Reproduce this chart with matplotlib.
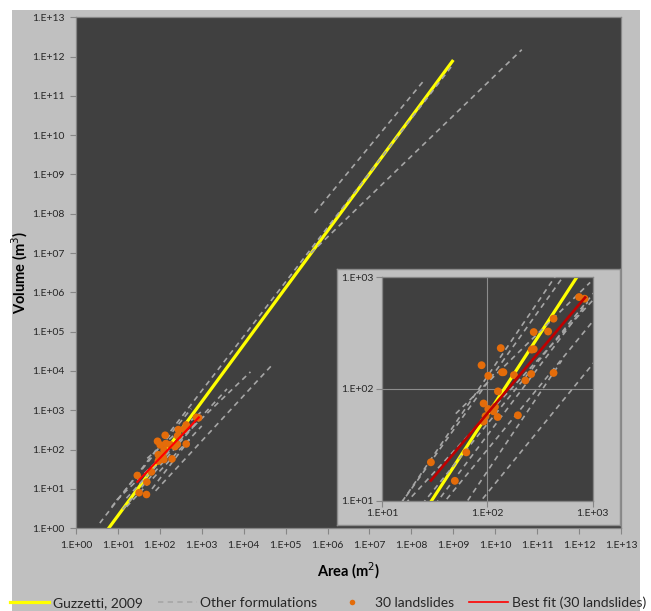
import numpy as np
import matplotlib
matplotlib.use("Agg")
import matplotlib.pyplot as plt
from matplotlib.patches import Rectangle
from matplotlib.lines import Line2D
from matplotlib.ticker import FixedLocator, FuncFormatter, NullLocator

plt.rcParams['font.family'] = ['Lato', 'DejaVu Sans']

# ---------------- data ----------------
# 30 landslides: area (m2) and volume (m3)
ls_area = [29, 49, 63, 88, 102, 134, 142, 92, 102, 96, 92, 118, 114, 125, 126,
           179, 195, 230, 261, 264, 276, 276, 378, 426, 426, 746, 840, 138, 32, 48]
ls_volume = [22, 15, 27, 163, 131, 232, 141, 74, 66, 57, 51, 69, 63, 56, 95,
             133, 58, 119, 136, 225, 227, 323, 327, 426, 139, 665, 643, 141, 8, 7.2]

# Guzzetti, 2009 (end points of the drawn curve)
guz_area = [1.0, 1.0e9]
guz_volume = [0.074, 8.2e11]

# Best fit (30 landslides), end points
fit_area = [29, 850]
fit_volume = [15.1, 660]

# Other formulations: start / end points (area, volume)
oth_a0 = [4.9e5, 4.0e5, 3.7e0, 7.9e1, 9.3e0, 1.6e1, 7.1e0, 5.0e1, 6.5e1, 1.3e1, 1.6e1]
oth_v0 = [1.05e8, 1.0e7, 1.35e0, 8.9e0, 5.2e0, 5.8e0, 3.5e0, 6.0e1, 1.0e1, 3.0e0, 3.5e0]
oth_a1 = [1.95e8, 4.3e10, 9.5e8, 5.2e4, 1.45e4, 4.0e3, 5.6e2, 9.5e2, 5.1e2, 9.0e2, 1.0e3]
oth_v1 = [2.4e11, 1.5e12, 6.0e11, 1.58e4, 9.5e3, 3.5e3, 1.1e3, 9.0e2, 1.8e2, 6.0e2, 4.0e2]

main_ticks = [10.0 ** i for i in range(0, 14)]
inset_ticks = [1e1, 1e2, 1e3]

# ---------------- styles ----------------
W, H = 651, 611
BG = '#C0C0C0'
PLOT_BG = '#404040'
YELLOW = '#FFFF00'
GREY = '#A6A6A6'
ORANGE = '#E46C0A'
RED = '#FF0000'
DARKRED = '#C00000'
AXIS = '#868686'


def fx(px):
    return px / W


def fy(py):
    return 1 - py / H


fmt = FuncFormatter(lambda v, p: '1.E+%02d' % int(round(np.log10(v))))

fig = plt.figure(figsize=(W / 100, H / 100), dpi=100)
fig.patch.set_facecolor('white')
fig.add_artist(Rectangle((fx(12), 0), fx(640) - fx(12), fy(10), transform=fig.transFigure,
                         facecolor=BG, edgecolor='none', zorder=-10))


def draw_series(ax, red_color, msize, red_lw):
    ax.plot(guz_area, guz_volume, color=YELLOW, lw=2.3, zorder=2, solid_capstyle='butt')
    for a0, v0, a1, v1 in zip(oth_a0, oth_v0, oth_a1, oth_v1):
        ax.plot([a0, a1], [v0, v1], color=GREY, lw=1.2, dashes=(3.2, 2.6), zorder=3)
    ax.scatter(ls_area, ls_volume, s=msize, color=ORANGE, edgecolors='none', zorder=4)
    ax.plot(fit_area, fit_volume, color=red_color, lw=red_lw, zorder=5)


def style_axes(ax):
    ax.set_facecolor(PLOT_BG)
    for s in ax.spines.values():
        s.set_color(AXIS)
        s.set_linewidth(0.9)
    ax.tick_params(axis='both', which='major', direction='out', length=4, width=0.8,
                   color=AXIS, labelsize=7.5, labelcolor='#262626', pad=2)
    ax.xaxis.set_minor_locator(NullLocator())
    ax.yaxis.set_minor_locator(NullLocator())


# ---------------- main axes ----------------
ax = fig.add_axes([fx(76), fy(528.2), fx(621) - fx(76), fy(17.3) - fy(528.2)])
ax.set_xscale('log')
ax.set_yscale('log')
ax.set_xlim(1, 1e13)
ax.set_ylim(1, 1e13)
style_axes(ax)
ax.xaxis.set_major_locator(FixedLocator(main_ticks))
ax.yaxis.set_major_locator(FixedLocator(main_ticks))
ax.xaxis.set_major_formatter(fmt)
ax.yaxis.set_major_formatter(fmt)
ax.tick_params(axis='x', pad=5)
ax.tick_params(axis='y', pad=4)
draw_series(ax, RED, 30, 1.5)
ax.set_xlabel('Area (m$^2$)', fontsize=10.5, fontweight='bold', labelpad=8)
ax.set_ylabel('Volume (m$^3$)', fontsize=10.5, fontweight='bold', labelpad=2)

# ---------------- inset ----------------
box = fig.add_axes([fx(337), fy(525), fx(620) - fx(337), fy(269) - fy(525)], zorder=3)
box.set_facecolor(BG)
box.set_xticks([])
box.set_yticks([])
for s in box.spines.values():
    s.set_color('#8C8C8C')
    s.set_linewidth(1.0)

ins = fig.add_axes([fx(382.3), fy(500.5), fx(592.5) - fx(382.3), fy(277.3) - fy(500.5)], zorder=4)
ins.set_xscale('log')
ins.set_yscale('log')
ins.set_xlim(10, 1000)
ins.set_ylim(10, 1000)
style_axes(ins)
ins.xaxis.set_major_locator(FixedLocator(inset_ticks))
ins.yaxis.set_major_locator(FixedLocator(inset_ticks))
ins.xaxis.set_major_formatter(fmt)
ins.yaxis.set_major_formatter(fmt)
ins.grid(True, which='major', color='#8C8C8C', lw=0.8)
ins.set_axisbelow(True)
draw_series(ins, DARKRED, 32, 1.9)

# ---------------- legend ----------------
handles = [
    Line2D([], [], color=YELLOW, lw=2.3),
    Line2D([], [], color=GREY, lw=1.2, dashes=(3.2, 2.6)),
    Line2D([], [], color=ORANGE, marker='o', ls='none', markersize=4, markeredgewidth=0),
    Line2D([], [], color=RED, lw=1.2),
]
labels = ['Guzzetti, 2009', 'Other formulations', '30 landslides', 'Best fit (30 landslides)']
fig.legend(handles, labels, loc='center', bbox_to_anchor=(fx(328), fy(603)), ncol=4,
           frameon=False, fontsize=10, handlelength=2.8, handletextpad=0.25,
           columnspacing=1.1, borderaxespad=0, labelcolor='#262626')

fig.savefig('out.png', dpi=100, facecolor=fig.get_facecolor())
